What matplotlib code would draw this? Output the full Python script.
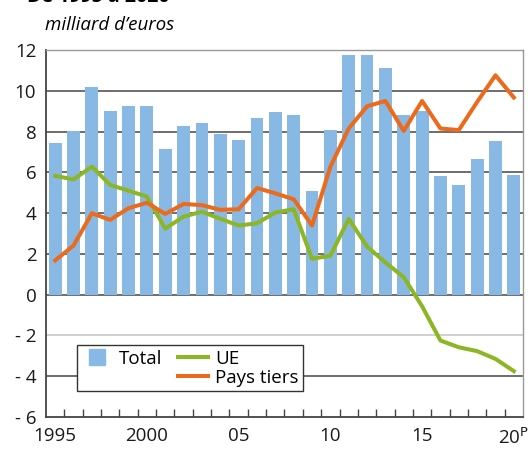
import numpy as np
import matplotlib
matplotlib.use("Agg")
import matplotlib.pyplot as plt
from matplotlib.lines import Line2D

years = list(range(1995, 2021))
total = [7.45, 8.03, 10.17, 9.03, 9.27, 9.24, 7.14, 8.28, 8.43, 7.86, 7.58, 8.66, 8.96,
         8.82, 5.10, 8.10, 11.74, 11.74, 11.13, 8.82, 9.01, 5.82, 5.36, 6.65, 7.52, 5.88]
ue = [5.83, 5.65, 6.28, 5.38, 5.10, 4.81, 3.24, 3.83, 4.07, 3.72, 3.39, 3.50, 4.03,
      4.19, 1.76, 1.91, 3.72, 2.36, 1.58, 0.86, -0.57, -2.25, -2.58, -2.77, -3.15, -3.75]
pays_tiers = [1.68, 2.41, 3.99, 3.67, 4.24, 4.51, 3.96, 4.45, 4.39, 4.16, 4.19, 5.23, 4.97,
              4.68, 3.39, 6.27, 8.15, 9.24, 9.50, 8.03, 9.50, 8.15, 8.07, 9.45, 10.76, 9.67]
y_ticks = [12, 10, 8, 6, 4, 2, 0, -2, -4, -6]
y_labels = ["12", "10", "8", "6", "4", "2", "0", "- 2", "- 4", "- 6"]
x_ticks = [1995, 2000, 2005, 2010, 2015, 2020]
x_labels = ["1995", "2000", "05", "10", "15", "20$^{\\mathrm{P}}$"]

BLUE = "#88b9e4"
GREEN = "#8cb623"
ORANGE = "#ec6a1c"

plt.rcParams["font.family"] = ["Open Sans", "DejaVu Sans"]
plt.rcParams["font.weight"] = "medium"
plt.rcParams["mathtext.default"] = "regular"

fig = plt.figure(figsize=(5.28, 4.49), dpi=100)
ax = fig.add_axes([46 / 528, 32 / 449, 477 / 528, 367 / 449])

# gridlines
for v in y_ticks[:-1]:
    col = "#c8c8c8" if v == -2 else "#555555"
    ax.axhline(v, color=col, lw=1.2, zorder=0)

ax.bar(years, total, width=0.7, color=BLUE, zorder=2)
ax.plot(years, ue, color=GREEN, lw=2.9, zorder=3, solid_joinstyle="round")
ax.plot(years, pays_tiers, color=ORANGE, lw=2.9, zorder=3, solid_joinstyle="round")

ax.set_xlim(1994.5, 2020.5)
ax.set_ylim(-6, 12)

ax.set_yticks(y_ticks)
ax.set_yticklabels(y_labels, fontsize=13.5, color="#1a1a1a")
ax.tick_params(axis="y", length=0, pad=7)

ax.set_xticks(x_ticks)
ax.set_xticklabels(x_labels, fontsize=13.5, color="#1a1a1a")
ax.set_xticks(np.arange(1995.5, 2020, 1), minor=True)
ax.tick_params(axis="x", which="major", length=0, pad=7)
ax.tick_params(axis="x", which="minor", direction="in", length=6, width=1, color="#444444")

for side in ["left", "bottom"]:
    ax.spines[side].set_color("#444444")
    ax.spines[side].set_linewidth(1.3)
for side in ["top", "right"]:
    ax.spines[side].set_color("#999999")
    ax.spines[side].set_linewidth(1.0)

handles = [Line2D([], [], color="none", marker="s", markersize=11,
                  markerfacecolor=BLUE, markeredgecolor=BLUE),
           Line2D([], [], color="none"),
           Line2D([], [], color=GREEN, lw=2.9),
           Line2D([], [], color=ORANGE, lw=2.9)]
labels = ["Total", "", "UE", "Pays tiers"]
leg = ax.legend(handles, labels, ncol=2, loc="upper left",
                bbox_to_anchor=(31 / 477, (417 - 345) / 367), borderaxespad=0,
                fontsize=13.5, frameon=True, fancybox=False, edgecolor="#333333",
                framealpha=1, borderpad=0.25, labelspacing=0.05, handlelength=1.6,
                handleheight=0.7, handletextpad=0.4, columnspacing=0.8)
leg.get_frame().set_linewidth(1.0)
leg.set_zorder(5)

fig.text(27 / 528, 1 - 2 / 449, "De 1995 à 2020", fontsize=14, fontweight="bold",
         va="baseline", ha="left")
fig.text(45 / 528, 1 - 30 / 449, "milliard d\u2019euros", fontsize=13.5, style="italic",
         va="baseline", ha="left")

fig.savefig("out.png", dpi=100)
